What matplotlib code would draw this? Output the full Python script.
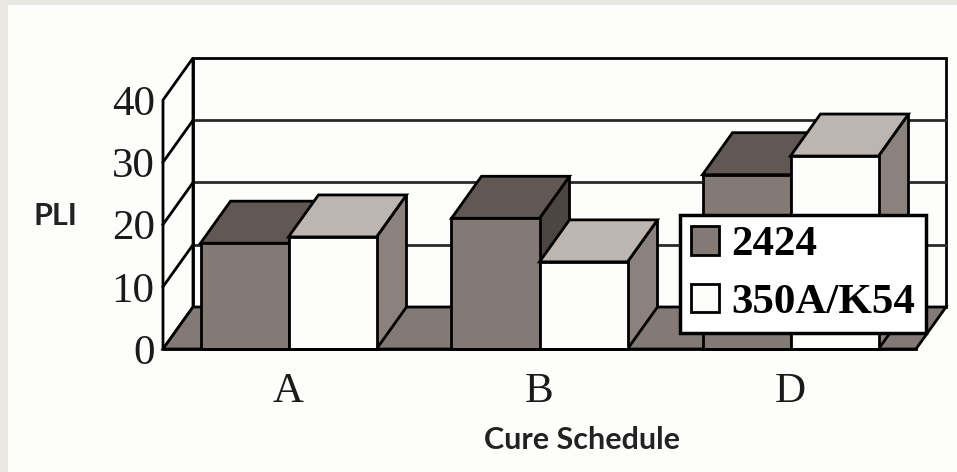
import matplotlib.pyplot as plt
from matplotlib.patches import Polygon, Rectangle, Patch

schedules = ["A", "B", "D"]
series_names = ["2424", "350A/K54"]
pli_2424 = [17, 21, 28]
pli_350a = [18, 14, 31]
yticks = [0, 10, 20, 30, 40]

W, H = 957, 472
fig = plt.figure(figsize=(W / 100, H / 100), dpi=100)
fig.patch.set_facecolor("#e9e7e1")
fig.add_artist(Rectangle((8 / W, 0), 1, 1 - 5 / H, transform=fig.transFigure,
                         facecolor="#fdfdfc", edgecolor="none", zorder=0))

# front plane of the 3-D box: x 163..916 px, y 349 (0) .. 100 (40) px
ax = fig.add_axes([163 / W, (H - 349) / H, 753 / W, 249 / H])
ax.set_xlim(0, 3)
ax.set_ylim(0, 40)
ax.patch.set_visible(False)
for s in ax.spines.values():
    s.set_visible(False)

# depth offset of the oblique projection, in data units
dx = 30 / 251
dy = 42 / 6.225
lw = 2.0
ymax = yticks[-1]


def poly(pts, fc, z):
    ax.add_patch(Polygon(pts, closed=True, facecolor=fc, edgecolor="black",
                         linewidth=lw, joinstyle="miter", clip_on=False, zorder=z))


# back wall with gridlines
poly([(dx, dy), (3 + dx, dy), (3 + dx, ymax + dy), (dx, ymax + dy)], "#fdfdfc", 1)
for t in yticks[1:-1]:
    ax.plot([dx, 3 + dx], [t + dy, t + dy], color="#2a2a2a", lw=lw, clip_on=False, zorder=2)
# left wall
poly([(0, 0), (dx, dy), (dx, ymax + dy), (0, ymax)], "#fdfdfc", 2)
for t in yticks[1:-1]:
    ax.plot([0, dx], [t, t + dy], color="black", lw=lw, clip_on=False, zorder=3)
# floor
poly([(0, 0), (3, 0), (3 + dx, dy), (dx, dy)], "#847a75", 3)

# 3-D bars
bw = 88 / 251
styles = [
    dict(front="#847a75", top="#625853", side="#4d4541"),
    dict(front="#fdfdfc", top="#bdb5b0", side="#8c827d"),
]
z = 4
for i in range(len(schedules)):
    for k, vals in enumerate([pli_2424, pli_350a]):
        st = styles[k]
        x0 = i + 0.5 - bw + k * bw
        v = vals[i]
        poly([(x0 + bw, 0), (x0 + bw + dx, dy), (x0 + bw + dx, v + dy), (x0 + bw, v)], st["side"], z)
        poly([(x0, v), (x0 + bw, v), (x0 + bw + dx, v + dy), (x0 + dx, v + dy)], st["top"], z)
        ax.bar(x0, v, width=bw, align="edge", color=st["front"], edgecolor="black",
               linewidth=lw, clip_on=False, zorder=z + 0.5)
        z += 1

ax.plot([0, 3], [0, 0], color="black", lw=lw, clip_on=False, zorder=20)

serif = ["Liberation Serif", "DejaVu Serif"]
ax.set_yticks(yticks)
ax.set_yticklabels([str(t) for t in yticks], family=serif, fontsize=31, color="#1a1a1a")
ax.set_xticks([0.5, 1.5, 2.5])
ax.set_xticklabels(schedules, family=serif, fontsize=31, color="#1a1a1a")
ax.tick_params(axis="y", length=0, pad=6)
ax.tick_params(axis="x", length=0, pad=17)

fig.text(55 / W, 1 - 216 / H, "PLI", family=["Lato", "DejaVu Sans"], fontweight="bold",
         fontsize=22, color="#222222", ha="center", va="center")
fig.text(582 / W, 1 - 440 / H, "Cure Schedule", family=["Lato", "DejaVu Sans"],
         fontweight="bold", fontsize=22, color="#222222", ha="center", va="center")

handles = [Patch(facecolor=styles[k]["front"], edgecolor="black", linewidth=2,
                 label=series_names[k]) for k in range(2)]
leg = ax.legend(handles=handles, loc="upper left",
                bbox_to_anchor=(680 / W, 1 - 215 / H), bbox_transform=fig.transFigure,
                prop={"family": serif, "weight": "bold", "size": 31},
                frameon=True, fancybox=False, framealpha=1, edgecolor="black",
                borderpad=0.25, labelspacing=0.45, handlelength=0.65, handleheight=0.65,
                handletextpad=0.3, borderaxespad=0)
leg.get_frame().set_linewidth(2.5)
leg.set_zorder(30)

fig.savefig("out.png", dpi=100)
